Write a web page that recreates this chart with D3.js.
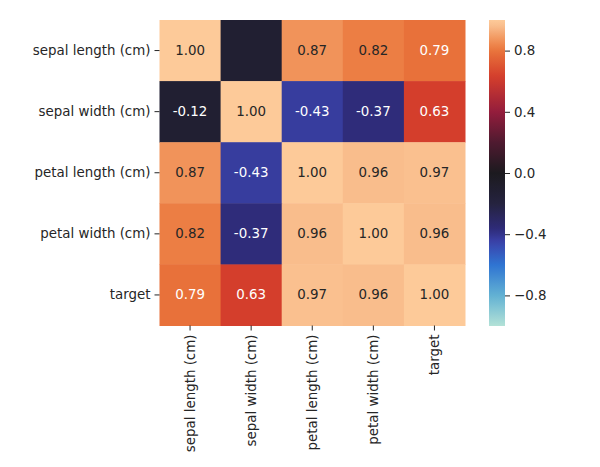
<!DOCTYPE html>
<html>
<head>
<meta charset="utf-8">
<script src="https://cdn.jsdelivr.net/npm/d3@7"></script>
<style>
  body { margin: 0; background: #fff; }
  svg { display: block; }
  text { font-family: "DejaVu Sans", sans-serif; }
</style>
</head>
<body>
<svg id="chart" width="600" height="467"></svg>
<script>
const features = ["sepal length (cm)", "sepal width (cm)", "petal length (cm)", "petal width (cm)", "target"];
const values = [
  [1.00, -0.12, 0.87, 0.82, 0.79],
  [-0.12, 1.00, -0.43, -0.37, 0.63],
  [0.87, -0.43, 1.00, 0.96, 0.97],
  [0.82, -0.37, 0.96, 1.00, 0.96],
  [0.79, 0.63, 0.97, 0.96, 1.00]
];
// annotation shown in each cell (the top-row second cell has no visible label)
const labels = [
  ["1.00", "", "0.87", "0.82", "0.79"],
  ["-0.12", "1.00", "-0.43", "-0.37", "0.63"],
  ["0.87", "-0.43", "1.00", "0.96", "0.97"],
  ["0.82", "-0.37", "0.96", "1.00", "0.96"],
  ["0.79", "0.63", "0.97", "0.96", "1.00"]
];
const colorTicks = [-0.8, -0.4, 0.0, 0.4, 0.8];

const svg = d3.select("#chart");
const fontSize = 13.4;

const mLeft = 159.5, mTop = 20, size = 305.5;
const x = d3.scaleBand().domain(features).range([mLeft, mLeft + size]);
const y = d3.scaleBand().domain(features).range([mTop, mTop + size]);

// approximation of seaborn "icefire"
const stops = [-1.0, -0.8, -0.6, -0.45, -0.37, -0.2, 0.0, 0.2, 0.4, 0.63, 0.79, 0.82, 0.87, 0.96, 1.0];
const cols  = ["#b3e2d7", "#62b1d3", "#2f74d2", "#3a42aa", "#2f2c7a", "#25233f", "#1c1a1f", "#4f1a30", "#941d3c", "#d43e2c", "#e8713a", "#ec7e44", "#f1935a", "#f9bd8c", "#fdca99"];
const color = d3.scaleLinear().domain(stops).range(cols).interpolate(d3.interpolateRgb).clamp(true);

const cells = [];
values.forEach((row, i) => row.forEach((v, j) => cells.push({r: features[i], c: features[j], v, label: labels[i][j]})));

const g = svg.append("g");
g.selectAll("rect.cell").data(cells).enter().append("rect")
  .attr("class", "cell")
  .attr("x", d => x(d.c)).attr("y", d => y(d.r))
  .attr("width", x.bandwidth() + 0.5).attr("height", y.bandwidth() + 0.5)
  .attr("fill", d => color(d.v));

function lum(c) {
  const rgb = d3.rgb(c);
  const f = u => { u /= 255; return u <= 0.03928 ? u / 12.92 : Math.pow((u + 0.055) / 1.055, 2.4); };
  return 0.2126 * f(rgb.r) + 0.7152 * f(rgb.g) + 0.0722 * f(rgb.b);
}

g.selectAll("text.ann").data(cells).enter().append("text")
  .attr("class", "ann")
  .attr("x", d => x(d.c) + x.bandwidth() / 2)
  .attr("y", d => y(d.r) + y.bandwidth() / 2)
  .attr("text-anchor", "middle").attr("dominant-baseline", "central")
  .attr("font-size", fontSize)
  .attr("fill", d => lum(color(d.v)) > 0.31 ? "#262626" : "#ffffff")
  .text(d => d.label);

// axes
const yAxis = d3.axisLeft(y).tickSize(5).tickPadding(4);
const ya = svg.append("g").attr("transform", `translate(${mLeft},0)`).call(yAxis);
const xAxis = d3.axisBottom(x).tickSize(5).tickPadding(4);
const xa = svg.append("g").attr("transform", `translate(0,${mTop + size})`).call(xAxis);
[ya, xa].forEach(a => {
  a.select(".domain").remove();
  a.selectAll(".tick line").attr("stroke", "#262626").attr("stroke-width", 1);
  a.selectAll(".tick text").attr("font-size", fontSize).attr("fill", "#262626").attr("font-family", "DejaVu Sans, sans-serif");
});
xa.selectAll(".tick text")
  .attr("transform", "rotate(-90)")
  .attr("text-anchor", "end")
  .attr("x", -9).attr("y", 0).attr("dy", "0.35em");

// colorbar
const cbX = 489, cbW = 16, cbTop = 20, cbBot = 326;
const cy = d3.scaleLinear().domain([-1, 1]).range([cbBot, cbTop]);
const defs = svg.append("defs");
const grad = defs.append("linearGradient").attr("id", "cbgrad")
  .attr("x1", 0).attr("y1", 1).attr("x2", 0).attr("y2", 0);
d3.range(0, 1.0001, 0.02).forEach(t => {
  const v = -1 + 2 * t;
  grad.append("stop").attr("offset", t).attr("stop-color", color(v));
});
svg.append("rect").attr("x", cbX).attr("y", cbTop).attr("width", cbW).attr("height", cbBot - cbTop)
  .attr("fill", "url(#cbgrad)");
const cAxis = d3.axisRight(cy).tickValues(colorTicks).tickSize(5).tickPadding(4)
  .tickFormat(d => d3.format(".1f")(d).replace("-", "\u2212"));
const ca = svg.append("g").attr("transform", `translate(${cbX + cbW},0)`).call(cAxis);
ca.select(".domain").remove();
ca.selectAll(".tick line").attr("stroke", "#262626");
ca.selectAll(".tick text").attr("font-size", fontSize).attr("fill", "#262626").attr("font-family", "DejaVu Sans, sans-serif");
</script>
</body>
</html>
